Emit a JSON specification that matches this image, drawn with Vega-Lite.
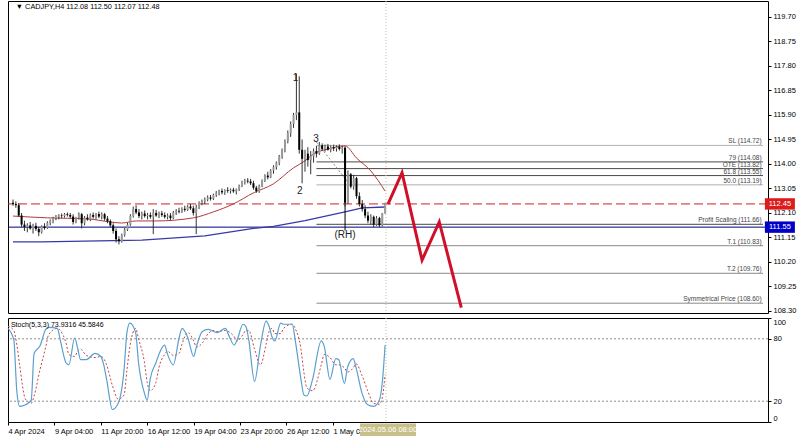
{
"$schema":"https://vega.github.io/schema/vega-lite/v6.json",
"padding":{"left":5,"top":0,"right":0,"bottom":0},
"background":"white",
"spacing":2,
"config":{"view":{"stroke":"#000","strokeWidth":1},"font":"Liberation Sans","axis":{"labelFont":"Liberation Sans","labelFontSize":7.5,"labelColor":"#000","tickColor":"#000","grid":false,"title":null}},
"datasets":{
"candles":[
{"i":0,"o":112.50,"h":112.62,"l":112.38,"c":112.45},
{"i":1,"o":112.45,"h":112.55,"l":112.30,"c":112.40},
{"i":2,"o":112.40,"h":112.48,"l":111.95,"c":112.00},
{"i":3,"o":112.00,"h":112.10,"l":111.55,"c":111.65},
{"i":4,"o":111.65,"h":111.80,"l":111.40,"c":111.55},
{"i":5,"o":111.55,"h":111.70,"l":111.35,"c":111.62},
{"i":6,"o":111.62,"h":111.75,"l":111.45,"c":111.50},
{"i":7,"o":111.50,"h":111.68,"l":111.30,"c":111.60},
{"i":8,"o":111.60,"h":111.72,"l":111.40,"c":111.48},
{"i":9,"o":111.48,"h":111.55,"l":111.20,"c":111.35},
{"i":10,"o":111.35,"h":111.62,"l":111.30,"c":111.58},
{"i":11,"o":111.58,"h":111.70,"l":111.45,"c":111.52},
{"i":12,"o":111.52,"h":111.78,"l":111.48,"c":111.72},
{"i":13,"o":111.72,"h":111.85,"l":111.62,"c":111.80},
{"i":14,"o":111.80,"h":111.95,"l":111.70,"c":111.90},
{"i":15,"o":111.90,"h":112.02,"l":111.82,"c":111.95},
{"i":16,"o":111.95,"h":112.05,"l":111.85,"c":112.00},
{"i":17,"o":112.00,"h":112.08,"l":111.90,"c":111.98},
{"i":18,"o":111.98,"h":112.10,"l":111.92,"c":112.05},
{"i":19,"o":112.05,"h":112.12,"l":111.96,"c":112.02},
{"i":20,"o":112.02,"h":112.10,"l":111.90,"c":111.96},
{"i":21,"o":111.96,"h":112.05,"l":111.65,"c":111.75},
{"i":22,"o":111.75,"h":111.95,"l":111.70,"c":111.90},
{"i":23,"o":111.90,"h":112.12,"l":111.85,"c":112.05},
{"i":24,"o":112.05,"h":112.10,"l":111.50,"c":111.70},
{"i":25,"o":111.70,"h":111.98,"l":111.62,"c":111.92},
{"i":26,"o":111.92,"h":112.05,"l":111.80,"c":111.85},
{"i":27,"o":111.85,"h":112.08,"l":111.78,"c":112.02},
{"i":28,"o":112.02,"h":112.12,"l":111.88,"c":111.95},
{"i":29,"o":111.95,"h":112.10,"l":111.85,"c":112.06},
{"i":30,"o":112.06,"h":112.15,"l":111.90,"c":111.96},
{"i":31,"o":111.96,"h":112.12,"l":111.85,"c":112.05},
{"i":32,"o":112.05,"h":112.10,"l":111.80,"c":111.88},
{"i":33,"o":111.88,"h":111.98,"l":111.70,"c":111.78},
{"i":34,"o":111.78,"h":111.85,"l":111.55,"c":111.62},
{"i":35,"o":111.62,"h":111.70,"l":111.30,"c":111.40},
{"i":36,"o":111.40,"h":111.50,"l":110.95,"c":111.08},
{"i":37,"o":111.08,"h":111.20,"l":110.88,"c":111.00},
{"i":38,"o":111.00,"h":111.30,"l":110.95,"c":111.25},
{"i":39,"o":111.25,"h":111.52,"l":111.18,"c":111.45},
{"i":40,"o":111.45,"h":111.72,"l":111.40,"c":111.65},
{"i":41,"o":111.65,"h":112.05,"l":111.60,"c":111.98},
{"i":42,"o":111.98,"h":112.35,"l":111.92,"c":112.25},
{"i":43,"o":112.25,"h":112.40,"l":112.05,"c":112.12},
{"i":44,"o":112.12,"h":112.25,"l":111.90,"c":111.98},
{"i":45,"o":111.98,"h":112.15,"l":111.85,"c":112.08},
{"i":46,"o":112.08,"h":112.20,"l":111.92,"c":111.98},
{"i":47,"o":111.98,"h":112.10,"l":111.85,"c":112.02},
{"i":48,"o":112.02,"h":112.12,"l":111.88,"c":111.95},
{"i":49,"o":111.95,"h":112.25,"l":111.28,"c":112.10},
{"i":50,"o":112.10,"h":112.22,"l":111.95,"c":112.00},
{"i":51,"o":112.00,"h":112.15,"l":111.90,"c":112.08},
{"i":52,"o":112.08,"h":112.18,"l":111.95,"c":112.02},
{"i":53,"o":112.02,"h":112.12,"l":111.88,"c":111.95},
{"i":54,"o":111.95,"h":112.08,"l":111.85,"c":112.00},
{"i":55,"o":112.00,"h":112.10,"l":111.82,"c":111.90},
{"i":56,"o":111.90,"h":112.18,"l":111.86,"c":112.12},
{"i":57,"o":112.12,"h":112.25,"l":112.02,"c":112.18},
{"i":58,"o":112.18,"h":112.30,"l":112.08,"c":112.15},
{"i":59,"o":112.15,"h":112.32,"l":112.10,"c":112.26},
{"i":60,"o":112.26,"h":112.38,"l":112.15,"c":112.22},
{"i":61,"o":112.22,"h":112.40,"l":112.18,"c":112.35},
{"i":62,"o":112.35,"h":112.45,"l":112.22,"c":112.28},
{"i":63,"o":112.28,"h":112.38,"l":112.00,"c":112.10},
{"i":64,"o":112.10,"h":112.42,"l":111.28,"c":112.30},
{"i":65,"o":112.30,"h":112.55,"l":112.25,"c":112.48},
{"i":66,"o":112.48,"h":112.62,"l":112.40,"c":112.55},
{"i":67,"o":112.55,"h":112.70,"l":112.45,"c":112.62},
{"i":68,"o":112.62,"h":112.78,"l":112.55,"c":112.70},
{"i":69,"o":112.70,"h":112.80,"l":112.58,"c":112.65},
{"i":70,"o":112.65,"h":112.85,"l":112.60,"c":112.80},
{"i":71,"o":112.80,"h":112.95,"l":112.72,"c":112.88},
{"i":72,"o":112.88,"h":113.00,"l":112.78,"c":112.95},
{"i":73,"o":112.95,"h":113.05,"l":112.82,"c":112.90},
{"i":74,"o":112.90,"h":113.02,"l":112.80,"c":112.98},
{"i":75,"o":112.98,"h":113.10,"l":112.88,"c":112.95},
{"i":76,"o":112.95,"h":113.05,"l":112.85,"c":113.00},
{"i":77,"o":113.00,"h":113.08,"l":112.88,"c":112.94},
{"i":78,"o":112.94,"h":113.05,"l":112.82,"c":113.02},
{"i":79,"o":113.02,"h":113.20,"l":112.95,"c":113.15},
{"i":80,"o":113.15,"h":113.35,"l":113.10,"c":113.30},
{"i":81,"o":113.30,"h":113.42,"l":113.20,"c":113.35},
{"i":82,"o":113.35,"h":113.45,"l":113.25,"c":113.32},
{"i":83,"o":113.32,"h":113.42,"l":113.18,"c":113.25},
{"i":84,"o":113.25,"h":113.35,"l":113.00,"c":113.08},
{"i":85,"o":113.08,"h":113.15,"l":112.88,"c":112.95},
{"i":86,"o":112.95,"h":113.20,"l":112.88,"c":113.15},
{"i":87,"o":113.15,"h":113.40,"l":113.10,"c":113.35},
{"i":88,"o":113.35,"h":113.60,"l":113.30,"c":113.55},
{"i":89,"o":113.55,"h":113.70,"l":113.40,"c":113.48},
{"i":90,"o":113.48,"h":113.80,"l":113.45,"c":113.75},
{"i":91,"o":113.75,"h":113.95,"l":113.62,"c":113.88},
{"i":92,"o":113.88,"h":114.10,"l":113.78,"c":114.05},
{"i":93,"o":114.05,"h":114.35,"l":113.95,"c":114.30},
{"i":94,"o":114.30,"h":114.60,"l":114.20,"c":114.55},
{"i":95,"o":114.55,"h":114.95,"l":114.45,"c":114.88},
{"i":96,"o":114.88,"h":115.30,"l":114.80,"c":115.20},
{"i":97,"o":115.20,"h":115.65,"l":115.05,"c":115.55},
{"i":98,"o":115.55,"h":115.98,"l":115.40,"c":115.90},
{"i":99,"o":115.90,"h":117.50,"l":115.70,"c":116.00},
{"i":100,"o":116.00,"h":117.40,"l":114.40,"c":114.55},
{"i":101,"o":114.55,"h":114.95,"l":113.25,"c":114.20},
{"i":102,"o":114.20,"h":114.55,"l":113.70,"c":114.40},
{"i":103,"o":114.40,"h":114.65,"l":113.90,"c":114.15},
{"i":104,"o":114.15,"h":114.50,"l":113.60,"c":114.30},
{"i":105,"o":114.30,"h":114.60,"l":114.05,"c":114.50},
{"i":106,"o":114.50,"h":114.70,"l":114.25,"c":114.40},
{"i":107,"o":114.40,"h":114.85,"l":114.35,"c":114.72},
{"i":108,"o":114.72,"h":114.80,"l":114.50,"c":114.58},
{"i":109,"o":114.58,"h":114.75,"l":114.48,"c":114.68},
{"i":110,"o":114.68,"h":114.78,"l":114.52,"c":114.55},
{"i":111,"o":114.55,"h":114.72,"l":114.45,"c":114.65},
{"i":112,"o":114.65,"h":114.75,"l":114.50,"c":114.60},
{"i":113,"o":114.60,"h":114.72,"l":114.48,"c":114.66},
{"i":114,"o":114.66,"h":114.76,"l":114.52,"c":114.58},
{"i":115,"o":114.58,"h":114.70,"l":114.40,"c":114.62},
{"i":116,"o":114.62,"h":114.68,"l":112.35,"c":112.50},
{"i":117,"o":112.50,"h":113.75,"l":112.45,"c":113.60},
{"i":118,"o":113.60,"h":113.65,"l":113.05,"c":113.12},
{"i":119,"o":113.12,"h":113.58,"l":113.00,"c":113.45},
{"i":120,"o":113.45,"h":113.50,"l":112.65,"c":112.75},
{"i":121,"o":112.75,"h":112.90,"l":112.35,"c":112.45},
{"i":122,"o":112.45,"h":112.60,"l":112.15,"c":112.25},
{"i":123,"o":112.25,"h":112.40,"l":111.90,"c":112.00},
{"i":124,"o":112.00,"h":112.15,"l":111.70,"c":111.80},
{"i":125,"o":111.80,"h":112.05,"l":111.65,"c":111.95},
{"i":126,"o":111.95,"h":112.00,"l":111.55,"c":111.65},
{"i":127,"o":111.65,"h":111.98,"l":111.60,"c":111.90},
{"i":128,"o":111.90,"h":111.95,"l":111.55,"c":111.62},
{"i":129,"o":111.62,"h":112.10,"l":111.58,"c":112.08},
{"i":130,"o":112.08,"h":112.50,"l":112.07,"c":112.48}
],
"maRed":[{"i":0,"p":111.98},{"i":12,"p":111.91},{"i":26,"p":111.87},{"i":34,"p":111.75},{"i":38,"p":111.71},{"i":43,"p":111.79},{"i":50,"p":111.79},{"i":63,"p":111.91},{"i":70,"p":112.14},{"i":77,"p":112.45},{"i":84,"p":112.88},{"i":91,"p":113.23},{"i":98,"p":113.85},{"i":102,"p":114.12},{"i":105,"p":114.39},{"i":110,"p":114.58},{"i":116,"p":114.70},{"i":120,"p":114.23},{"i":125,"p":113.73},{"i":130,"p":112.95}],
"maBlue":[{"i":0,"p":110.98},{"i":10,"p":110.98},{"i":45,"p":111.05},{"i":67,"p":111.21},{"i":84,"p":111.50},{"i":91,"p":111.58},{"i":102,"p":111.80},{"i":116,"p":112.14},{"i":122,"p":112.30},{"i":130,"p":112.33}],
"fibo":[
{"p":114.72,"label":"SL (114.72)","tone":"light"},
{"p":114.08,"label":"79 (114.08)","tone":"dark"},
{"p":113.82,"label":"OTE (113.82)","tone":"dark"},
{"p":113.55,"label":"61.8 (113.55)","tone":"dark"},
{"p":113.19,"label":"50.0 (113.19)","tone":"light"},
{"p":111.66,"label":"Profit Scaling (111.66)","tone":"dark"},
{"p":110.83,"label":"T.1 (110.83)","tone":"mid"},
{"p":109.76,"label":"T.2 (109.76)","tone":"mid"},
{"p":108.60,"label":"Symmetrical Price (108.60)","tone":"mid"}],
"proj":[{"i":131,"p":112.44},{"i":135.9,"p":113.66},{"i":142.9,"p":110.27},{"i":148.9,"p":111.75},{"i":156.6,"p":108.43}],
"diag":[{"i":106,"p":114.85},{"i":117,"p":113.30}],
"notes":[{"i":98.7,"p":117.33,"t":"1"},{"i":100.2,"p":112.95,"t":"2"},{"i":105.9,"p":114.97,"t":"3"},{"i":116,"p":111.25,"t":"(RH)"}],
"stoch":[
{"i":0,"k":90,"d":92},{"i":2,"k":79,"d":88},{"i":3,"k":31,"d":75},{"i":4,"k":15,"d":55},{"i":6,"k":16.5,"d":22},{"i":8,"k":21,"d":18},{"i":9,"k":66,"d":25},{"i":11,"k":73,"d":50},{"i":13,"k":89,"d":72},{"i":14,"k":91,"d":84},{"i":17,"k":90,"d":90},{"i":18,"k":79,"d":88},{"i":20,"k":57,"d":76},{"i":21,"k":55,"d":65},{"i":23,"k":81,"d":63},{"i":24,"k":71,"d":68},{"i":25,"k":60,"d":70},{"i":27,"k":60,"d":64},{"i":30,"k":66,"d":62},{"i":32,"k":63,"d":63},{"i":33,"k":55,"d":61},{"i":34,"k":41,"d":55},{"i":36,"k":12,"d":35},{"i":38,"k":18,"d":22},{"i":40,"k":50,"d":26},{"i":41,"k":86,"d":50},{"i":42,"k":95,"d":72},{"i":44,"k":86,"d":90},{"i":45,"k":57,"d":80},{"i":47,"k":28,"d":58},{"i":48,"k":21,"d":38},{"i":49,"k":41,"d":30},{"i":51,"k":57,"d":38},{"i":52,"k":65,"d":52},{"i":54,"k":74,"d":65},{"i":55,"k":65,"d":68},{"i":57,"k":55,"d":64},{"i":59,"k":81,"d":66},{"i":60,"k":90,"d":75},{"i":62,"k":81,"d":86},{"i":64,"k":63,"d":78},{"i":65,"k":73,"d":72},{"i":67,"k":87,"d":76},{"i":69,"k":89,"d":85},{"i":71,"k":87,"d":88},{"i":72,"k":86,"d":87},{"i":75,"k":90,"d":88},{"i":76,"k":84,"d":87},{"i":78,"k":74,"d":82},{"i":79,"k":79,"d":78},{"i":81,"k":94,"d":84},{"i":82,"k":92,"d":88},{"i":83,"k":79,"d":88},{"i":85,"k":39,"d":70},{"i":87,"k":73,"d":55},{"i":89,"k":97,"d":75},{"i":90,"k":92,"d":87},{"i":91,"k":82,"d":90},{"i":92,"k":78,"d":85},{"i":94,"k":95,"d":85},{"i":95,"k":94,"d":90},{"i":98,"k":94,"d":94},{"i":99,"k":79,"d":90},{"i":101,"k":41,"d":70},{"i":102,"k":26,"d":48},{"i":103,"k":25,"d":33},{"i":105,"k":41,"d":30},{"i":108,"k":78,"d":55},{"i":109,"k":73,"d":65},{"i":111,"k":41,"d":62},{"i":113,"k":61,"d":55},{"i":114,"k":60,"d":55},{"i":116,"k":37,"d":52},{"i":117,"k":52,"d":48},{"i":119,"k":61,"d":52},{"i":120,"k":52,"d":56},{"i":122,"k":28,"d":45},{"i":124,"k":16.5,"d":30},{"i":126,"k":15,"d":18},{"i":128,"k":21,"d":17},{"i":129,"k":37,"d":23},{"i":130,"k":73.93,"d":45.58}]
},
"vconcat":[
{
"width":760,"height":312,
"layer":[
{"data":{"name":"fibo"},"mark":{"type":"rule","strokeWidth":1},
 "encoding":{"x":{"datum":106,"type":"quantitative","scale":{"domain":[0,262],"nice":false,"zero":false},"axis":null},"x2":{"datum":262},
 "y":{"field":"p","type":"quantitative","scale":{"domain":[108.22,120.32],"nice":false,"zero":false},"axis":{"orient":"right","values":[119.70,118.75,117.80,116.85,115.90,114.95,114.00,113.05,112.10,111.15,110.20,109.25,108.30],"tickCount":30,"format":".2f","tickSize":3,"labelPadding":2,"domain":false,"labelOverlap":false,"labelFontSize":7.5}},
 "color":{"field":"tone","type":"nominal","scale":{"domain":["light","dark","mid"],"range":["#b0b0b0","#4a4a4a","#8a8a8a"]},"legend":null}}},
{"data":{"name":"fibo"},"mark":{"type":"text","align":"right","baseline":"bottom","dy":-1,"fontSize":6.5,"color":"#444"},
 "encoding":{"x":{"datum":261.5,"type":"quantitative"},"y":{"field":"p","type":"quantitative"},"text":{"field":"label"}}},
{"data":{"values":[{"p":112.45}]},"mark":{"type":"rule","color":"#d02020","strokeWidth":1,"strokeDash":[9,4]},
 "encoding":{"y":{"field":"p","type":"quantitative"}}},
{"data":{"values":[{"p":111.55}]},"mark":{"type":"rule","color":"#000080","strokeWidth":1},
 "encoding":{"y":{"field":"p","type":"quantitative"}}},
{"data":{"name":"maBlue"},"mark":{"type":"line","color":"#3838a8","strokeWidth":1.3},
 "encoding":{"x":{"field":"i","type":"quantitative"},"y":{"field":"p","type":"quantitative"}}},
{"data":{"name":"maRed"},"mark":{"type":"line","color":"#b03a3a","strokeWidth":1,"interpolate":"monotone"},
 "encoding":{"x":{"field":"i","type":"quantitative"},"y":{"field":"p","type":"quantitative"}}},
{"data":{"name":"diag"},"mark":{"type":"line","color":"#808080","strokeWidth":1,"strokeDash":[2,2]},
 "encoding":{"x":{"field":"i","type":"quantitative"},"y":{"field":"p","type":"quantitative"}}},
{"data":{"values":[{"i":116,"a":114.65,"b":111.42}]},"mark":{"type":"rule","color":"#000","strokeWidth":1},
 "encoding":{"x":{"field":"i","type":"quantitative"},"y":{"field":"a","type":"quantitative"},"y2":{"field":"b"}}},
{"data":{"name":"candles"},"mark":{"type":"rule","strokeWidth":1,"color":"#333"},
 "encoding":{"x":{"field":"i","type":"quantitative"},"y":{"field":"l","type":"quantitative"},"y2":{"field":"h"}}},
{"data":{"name":"candles"},"mark":{"type":"bar","width":2},
 "encoding":{"x":{"field":"i","type":"quantitative"},"y":{"field":"o","type":"quantitative"},"y2":{"field":"c"},
 "color":{"condition":{"test":"datum.c >= datum.o","value":"#9a9a9a"},"value":"#000000"}}},
{"data":{"name":"proj"},"mark":{"type":"line","color":"#d0102a","strokeWidth":3},
 "encoding":{"x":{"field":"i","type":"quantitative"},"y":{"field":"p","type":"quantitative"}}},
{"data":{"values":[{"i":130.3}]},"mark":{"type":"rule","color":"#c8c0a0","strokeWidth":1,"strokeDash":[1,2]},
 "encoding":{"x":{"field":"i","type":"quantitative"}}},
{"data":{"name":"notes"},"mark":{"type":"text","fontSize":10,"color":"#222","baseline":"middle"},
 "encoding":{"x":{"field":"i","type":"quantitative"},"y":{"field":"p","type":"quantitative"},"text":{"field":"t"}}},
{"data":{"values":[{"i":1,"p":120.09,"t":"▼ CADJPY,H4  112.08 112.50 112.07 112.48"}]},"mark":{"type":"text","fontSize":7.3,"align":"left","baseline":"middle","color":"#000"},
 "encoding":{"x":{"field":"i","type":"quantitative"},"y":{"field":"p","type":"quantitative"},"text":{"field":"t"}}},
{"data":{"values":[{"p":112.45}]},"mark":{"type":"point","filled":true,"opacity":1,"color":"#dc1c1c","shape":"M-1,-0.38H1V0.38H-1Z","size":900},
 "encoding":{"x":{"datum":267.9,"type":"quantitative"},"y":{"field":"p","type":"quantitative"}}},
{"data":{"values":[{"p":111.55}]},"mark":{"type":"point","filled":true,"opacity":1,"color":"#0000c8","shape":"M-1,-0.38H1V0.38H-1Z","size":900},
 "encoding":{"x":{"datum":267.9,"type":"quantitative"},"y":{"field":"p","type":"quantitative"}}},
{"data":{"values":[{"p":112.45,"t":"112.45"},{"p":111.55,"t":"111.55"}]},"mark":{"type":"text","fontSize":7.5,"color":"#ffffff","baseline":"middle","align":"center"},
 "encoding":{"x":{"datum":267.9,"type":"quantitative"},"y":{"field":"p","type":"quantitative"},"text":{"field":"t"}}}
]
},
{
"width":760,"height":104,
"layer":[
{"data":{"values":[{"v":80},{"v":20}]},"mark":{"type":"rule","color":"#909090","strokeWidth":1,"strokeDash":[2,2]},
 "encoding":{"y":{"field":"v","type":"quantitative","scale":{"domain":[0,100],"nice":false},"axis":{"orient":"right","values":[0,20,80,100],"tickCount":30,"format":"d","tickSize":3,"labelPadding":2,"domain":false,"labelFlush":true,"labelOverlap":false,"labelFontSize":7.5}}}},
{"data":{"values":[{"i":130.3}]},"mark":{"type":"rule","color":"#c8c0a0","strokeWidth":1,"strokeDash":[1,2]},
 "encoding":{"x":{"field":"i","type":"quantitative","scale":{"domain":[0,262],"nice":false,"zero":false},
 "axis":{"orient":"bottom","values":[0,16,32,48,64,80,96,112],"tickCount":30,"labelExpr":"datum.value==0?'4 Apr 2024':datum.value==16?'9 Apr 04:00':datum.value==32?'11 Apr 20:00':datum.value==48?'16 Apr 12:00':datum.value==64?'19 Apr 04:00':datum.value==80?'23 Apr 20:00':datum.value==96?'26 Apr 12:00':'1 May 04:00'","labelAlign":"left","labelFlush":false,"labelOverlap":false,"tickSize":3,"labelPadding":2,"domain":false}}}},
{"data":{"name":"stoch"},"mark":{"type":"line","color":"#c04848","strokeWidth":1,"strokeDash":[2,2],"interpolate":"monotone"},
 "encoding":{"x":{"field":"i","type":"quantitative"},"y":{"field":"d","type":"quantitative"}}},
{"data":{"name":"stoch"},"mark":{"type":"line","color":"#5b9fcf","strokeWidth":1.2,"interpolate":"monotone"},
 "encoding":{"x":{"field":"i","type":"quantitative"},"y":{"field":"k","type":"quantitative"}}},
{"data":{"values":[{"i":1,"v":93.5,"t":"Stoch(5,3,3) 73.9316 45.5846"}]},"mark":{"type":"text","fontSize":7,"align":"left","baseline":"middle","color":"#000"},
 "encoding":{"x":{"field":"i","type":"quantitative"},"y":{"field":"v","type":"quantitative"},"text":{"field":"t"}}},
{"data":{"values":[{"i":131,"v":-7.7}]},"mark":{"type":"point","filled":true,"opacity":1,"color":"#c8c08a","shape":"M-1,-0.23H1V0.23H-1Z","size":3136},
 "encoding":{"x":{"field":"i","type":"quantitative"},"y":{"field":"v","type":"quantitative"}}},
{"data":{"values":[{"i":131,"v":-7.7,"t":"2024.05.06 08:00"}]},"mark":{"type":"text","fontSize":7.5,"align":"center","baseline":"middle","color":"#ffffff"},
 "encoding":{"x":{"field":"i","type":"quantitative"},"y":{"field":"v","type":"quantitative"},"text":{"field":"t"}}}
]
}
]
}
